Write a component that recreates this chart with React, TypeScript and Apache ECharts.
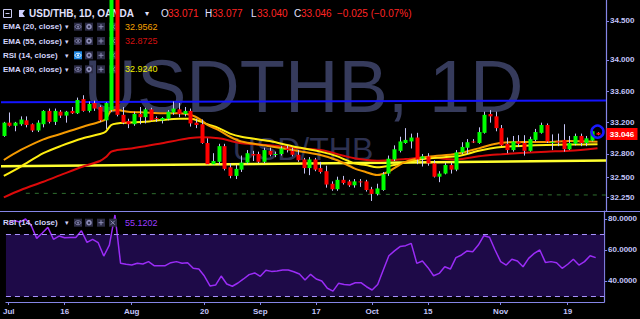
import React, { useEffect, useRef } from 'react';
import * as echarts from 'echarts';

const dates = [
  '07-02','07-03','07-04','07-05','07-06','07-09','07-10','07-11','07-12','07-13','07-16','07-17','07-18','07-19','07-20','07-23','07-24','07-25','07-26','07-27','07-30','07-31',
  '08-01','08-02','08-03','08-06','08-07','08-08','08-09','08-10','08-13','08-14','08-15','08-16','08-17','08-20','08-21','08-22','08-23','08-24','08-27','08-28','08-29','08-30','08-31',
  '09-03','09-04','09-05','09-06','09-07','09-10','09-11','09-12','09-13','09-14','09-17','09-18','09-19','09-20','09-21','09-24','09-25','09-26','09-27','09-28',
  '10-01','10-02','10-03','10-04','10-05','10-08','10-09','10-10','10-11','10-12','10-15','10-16','10-17','10-18','10-19','10-22','10-23','10-24','10-25','10-26','10-29','10-30','10-31',
  '11-01','11-02','11-05','11-06','11-07','11-08','11-09','11-12','11-13','11-14','11-15','11-16','11-19','11-20','11-21','11-22','11-23','11-26',
  ''
];

const tickDates = ['07-02','07-16','08-01','08-20','09-03','09-17','10-01','10-15','11-01','11-19'];
const tickTexts = ['Jul','16','Aug','20','Sep','17','Oct','15','Nov','19'];

const opens = [33.03,33.20,33.16,33.18,33.23,33.18,33.10,33.18,33.35,33.21, 33.34,33.29,33.35,33.32,33.50,33.35,33.45,33.40,33.23,33.36, 34.90,33.30,33.22,33.18,33.31,33.27,33.37,33.26,33.23,33.25, 33.33,33.37,33.31,33.35,33.20,33.18,32.94,32.67,32.70,32.90, 32.63,32.52,32.60,32.69,32.80,32.80,32.70,32.84,32.79,32.80, 32.87,32.84,32.79,32.73,32.62,32.73,32.62,32.58,32.42,32.35, 32.47,32.45,32.40,32.45,32.45,32.35,32.29,32.34,32.55,32.73, 32.84,32.94,32.96,33.01,32.74,32.77,32.68,32.51,32.55,32.66, 32.60,32.82,32.88,32.96,32.94,33.07,33.31,33.28,33.13,32.93, 32.85,32.96,32.94,32.84,32.98,33.07,33.17,32.95,32.96,32.98, 32.86,32.93,33.03,32.94,32.97,33.071];
const closes = [33.20,33.16,33.20,33.24,33.17,33.10,33.20,33.35,33.21,33.35, 33.29,33.34,33.32,33.49,33.35,33.44,33.38,33.23,33.45,34.90, 33.30,33.20,33.18,33.31,33.27,33.37,33.23,33.255,33.26,33.34, 33.38,33.31,33.35,33.19,33.17,32.94,32.67,32.71,32.90,32.61, 32.52,32.61,32.69,32.81,32.78,32.70,32.85,32.79,32.80,32.87, 32.85,32.79,32.72,32.62,32.73,32.60,32.57,32.41,32.35,32.47, 32.43,32.40,32.45,32.44,32.34,32.29,32.36,32.54,32.74,32.86, 32.96,32.98,33.01,32.73,32.77,32.68,32.51,32.55,32.66,32.60, 32.82,32.89,32.95,32.95,33.08,33.30,33.28,33.13,32.91,32.85, 32.96,32.93,32.84,32.99,33.08,33.17,32.96,32.955,32.95,32.86, 32.94,33.03,32.94,33.00,33.09,33.046];
const lows = [33.02,33.15,33.09,33.16,33.14,33.08,33.08,33.14,33.19,33.17, 33.26,33.20,33.31,33.31,33.34,33.33,33.35,33.21,33.12,33.34, 33.28,33.18,33.13,33.16,33.18,33.19,33.22,33.21,33.19,33.23, 33.30,33.27,33.28,33.15,33.13,32.93,32.66,32.66,32.66,32.59, 32.49,32.48,32.57,32.67,32.71,32.68,32.68,32.77,32.76,32.78, 32.82,32.77,32.70,32.55,32.53,32.58,32.55,32.37,32.33,32.33, 32.41,32.38,32.37,32.38,32.32,32.20,32.27,32.33,32.52,32.71, 32.82,32.93,32.87,32.67,32.64,32.65,32.50,32.44,32.54,32.55, 32.58,32.80,32.80,32.94,32.93,33.06,33.20,33.09,32.90,32.81, 32.83,32.89,32.78,32.83,32.96,33.06,32.94,32.85,32.90,32.83, 32.85,32.91,32.90,32.90,32.96,33.040];
const highs = [33.21,33.33,33.21,33.28,33.28,33.19,33.23,33.36,33.38,33.38, 33.36,33.35,33.40,33.52,33.55,33.47,33.48,33.42,33.46,34.95, 34.95,33.40,33.25,33.34,33.40,33.39,33.39,33.28,33.27,33.36, 33.47,33.45,33.40,33.38,33.25,33.24,33.00,32.81,32.93,32.93, 32.68,32.66,32.78,32.85,32.84,32.83,32.88,32.88,32.83,32.90, 32.91,32.88,32.85,32.75,32.76,32.75,32.70,32.65,32.45,32.51, 32.52,32.47,32.48,32.48,32.47,32.38,32.42,32.57,32.78,32.91, 33.02,33.13,33.06,33.07,32.80,32.81,32.72,32.58,32.69,32.69, 32.85,32.95,32.99,32.99,33.14,33.34,33.36,33.34,33.17,33.01, 33.03,33.04,33.04,33.02,33.12,33.20,33.19,33.05,33.06,33.18, 33.03,33.06,33.06,33.03,33.11,33.077];

const ema20 = [[0,32.723],[3,32.851],[7,32.987],[10,33.055],[14,33.148],[17,33.212],[18,33.243],[19,33.353],[20,33.361],[22,33.34],[25,33.33],[28,33.32],[31,33.32],[33,33.30],[35,33.23],[36,33.17],[38,33.106],[40,33.02],[42,32.96],[47,32.90],[51,32.85],[56,32.787],[59,32.72],[62,32.617],[64,32.57],[66,32.531],[68,32.573],[71,32.70],[75,32.765],[80,32.80],[84,32.872],[86,32.914],[88,32.944],[92,32.953],[96,32.953],[100,32.966],[105,32.956]];
const ema30 = [[0,32.52],[3,32.64],[7,32.81],[10,32.90],[14,33.0],[17,33.055],[18,33.085],[19,33.17],[20,33.19],[22,33.20],[25,33.21],[28,33.234],[31,33.25],[33,33.25],[35,33.21],[36,33.18],[38,33.13],[40,33.06],[42,33.02],[47,32.965],[51,32.90],[56,32.83],[59,32.77],[62,32.68],[64,32.66],[66,32.63],[68,32.646],[71,32.69],[75,32.745],[80,32.77],[84,32.84],[86,32.87],[88,32.89],[92,32.905],[96,32.915],[100,32.92],[105,32.924]];
const ema55 = [[0,32.246],[3,32.34],[7,32.446],[10,32.53],[14,32.64],[17,32.71],[18,32.757],[19,32.83],[20,32.85],[22,32.867],[25,32.90],[28,32.936],[31,32.98],[33,33.004],[35,33.013],[38,33.0],[40,32.97],[42,32.936],[47,32.91],[51,32.88],[56,32.85],[62,32.745],[66,32.714],[68,32.72],[71,32.735],[75,32.757],[80,32.73],[84,32.77],[86,32.787],[88,32.796],[92,32.816],[96,32.83],[100,32.84],[105,32.8725]];

const rsi = [77,79,78,80,76,67.5,71,74.6,66.9,69.0, 67.9,68.0,68.1,72.4,64.9,66.9,64.7,56.1,63.2,82.6, 51.5,50.8,50.3,51.4,51.0,52.5,49.9,49.9,49.9,51.8, 52.5,51.4,51.8,48.2,47.7,43.2,36.8,37.4,43.2,38.1, 36.6,38.7,41.3,44.1,45.2,43.0,46.9,46.2,46.5,47.1, 47.1,46.0,44.5,40.6,44.3,41.3,40.0,35.3,33.5,38.5, 37.8,37.4,38.9,38.9,36.3,34.2,37.8,47.1,56.3,59.4, 62.2,62.8,64.3,51.4,52.9,48.6,43.4,44.9,49.2,47.7, 55.1,56.8,59.4,58.9,63.2,69.2,68.2,60.0,52.5,50.3, 54.0,52.9,49.2,54.6,57.8,60.0,52.0,52.5,51.8,48.2, 50.8,54.0,50.3,52.5,56.3,55.1];

// drawn lines in price units, x as fraction of plot width
const blueLine = [[0, 33.46], [1, 33.483]];
const yellowTrend = [[0, 32.642], [1, 32.716]];
const greenDashed = [[0.041, 32.298], [1, 32.276]];

const priceTicks = [34.5, 34.0, 33.6, 33.2, 32.8, 32.5, 32.25];
const rsiTicks = [80, 60, 40];
const lastPrice = 33.046;
const circleMark = [105, 33.085];

const FONT = '"Liberation Sans", Arial, sans-serif';
const AXIS = '#8585e6';
const LABEL = '#c3c5fa';

function txt(x: number, y: number, text: string, fill: string, size: number, weight = 'normal', z = 1, family = FONT, align = 'left') {
  return { type: 'text', x, y, z, silent: true, style: { text, fill, fontSize: size, fontWeight: weight, fontFamily: family, align, verticalAlign: 'middle' } };
}
function seg(x1: number, y1: number, x2: number, y2: number, stroke: string, z: number) {
  return { type: 'line', z, silent: true, shape: { x1, y1, x2, y2 }, style: { stroke, lineWidth: 1 } };
}
function icons(y: number, z: number, eyeFill?: string) {
  const bg = '#2c2c46';
  const g = '#8e8eb8';
  const out: any[] = [];
  [74, 85, 97, 109].forEach((x, k) => {
    out.push({ type: 'rect', z, silent: true, shape: { x, y: y - 4, width: 8, height: 8 }, style: { fill: k === 0 && eyeFill ? eyeFill : bg } });
  });
  const eg = eyeFill ? '#ffffff' : g;
  out.push({ type: 'ellipse', z, silent: true, shape: { cx: 78, cy: y, rx: 3, ry: 2 }, style: { fill: 'none', stroke: eg, lineWidth: 0.8 } });
  out.push({ type: 'circle', z, silent: true, shape: { cx: 78, cy: y, r: 0.9 }, style: { fill: eg } });
  out.push({ type: 'ring', z, silent: true, shape: { cx: 89, cy: y, r: 2.8, r0: 1.2 }, style: { fill: g } });
  out.push(seg(98.5, y, 103.5, y, g, z), seg(101, y - 2.5, 101, y + 2.5, g, z));
  out.push(seg(110.8, y - 2, 114.8, y + 2, g, z), seg(110.8, y + 2, 114.8, y - 2, g, z));
  return out;
}
function legendRow(y: number, label: string, value: string, color: string, eyeFill?: string, z = 1) {
  const out: any[] = [txt(3, y, label, '#d2d3fa', 8, 'bold', z), txt(65, y, '▾', '#d2d3fa', 7, 'normal', z)];
  out.push(...icons(y, z, eyeFill));
  if (value) out.push(txt(125, y, value, color, 9, 'normal', z));
  return out;
}

export default function App() {
  const ref = useRef<HTMLDivElement>(null);
  useEffect(() => {
    const chart = echarts.init(ref.current!, null, { renderer: 'svg' });
    const candleData = dates.slice(0, opens.length).map((_, i) => [i, opens[i], closes[i], lows[i], highs[i]]);
    const tickIdx = tickDates.map((d) => dates.indexOf(d));
    const showTick = (idx: number) => tickIdx.includes(idx);

    const graphics: any[] = [
      // watermark
      { type: 'text', z: 0, silent: true, x: 303.5, y: 86, style: { text: 'USDTHB, 1D', fill: '#363b5c', fontSize: 74, fontFamily: FONT, align: 'center', verticalAlign: 'middle' } },
      { type: 'text', z: 0, silent: true, x: 303, y: 149, style: { text: 'USD/THB', fill: '#2d3150', fontSize: 32, fontFamily: FONT, align: 'center', verticalAlign: 'middle' } },
      // separator
      { type: 'line', z: 6, silent: true, shape: { x1: 0, y1: 211.5, x2: 640, y2: 211.5 }, style: { stroke: AXIS, lineWidth: 1.2 } },
      // last price label
      { type: 'rect', z: 8, silent: true, shape: { x: 606.5, y: 128, width: 31, height: 12 }, style: { fill: '#ff0000' } },
      txt(622, 134.3, lastPrice.toFixed(3), '#ffffff', 8, 'bold', 9, FONT, 'center'),
      // header row
      { type: 'rect', z: 1, silent: true, shape: { x: 3.5, y: 9.5, width: 8, height: 8 }, style: { fill: 'none', stroke: '#c8c8f0', lineWidth: 1 } },
      { type: 'line', z: 1, silent: true, shape: { x1: 5.5, y1: 13.5, x2: 9.5, y2: 13.5 }, style: { stroke: '#c8c8f0', lineWidth: 1 } },
      { type: 'polygon', z: 1, silent: true, shape: { points: [[19, 10], [25, 10], [22.5, 13.5], [25, 17], [19, 17]] }, style: { fill: '#d0d0ff' } },
      txt(29, 13.5, 'USD/THB, 1D, OANDA', '#e2e2ff', 10, 'bold'),
      txt(145, 13.5, '▾', '#e2e2ff', 8),
      txt(161, 13.5, 'O', '#e2e2ff', 10), txt(168, 13.5, '33.071', '#ff2424', 10),
      txt(205, 13.5, 'H', '#e2e2ff', 10), txt(212, 13.5, '33.077', '#ff2424', 10),
      txt(251, 13.5, 'L', '#e2e2ff', 10), txt(257, 13.5, '33.040', '#ff2424', 10),
      txt(294, 13.5, 'C', '#e2e2ff', 10), txt(301, 13.5, '33.046', '#ff2424', 10),
      txt(337, 13.5, '−0.025 (−0.07%)', '#ff2424', 10),
      ...legendRow(26.7, 'EMA (20, close)', '32.9562', '#f5a000'),
      ...legendRow(41, 'EMA (55, close)', '32.8725', '#d41010'),
      ...legendRow(55.3, 'RSI (14, close)', '', '#fff', '#1e88e5'),
      ...legendRow(69.3, 'EMA (30, close)', '32.9240', '#f0f000'),
      ...legendRow(222.7, 'RSI (14, close)', '55.1202', '#9a3cff', undefined, 8),
    ];

    const option: any = {
      animation: false,
      backgroundColor: '#000000',
      grid: [
        { left: 1, width: 605, top: 0, height: 211 },
        { left: 1, width: 605, top: 211, height: 91 },
      ],
      xAxis: [
        { type: 'category', gridIndex: 0, data: dates, boundaryGap: true, show: false },
        {
          type: 'category', gridIndex: 1, data: dates, boundaryGap: true,
          axisLine: { show: true, lineStyle: { color: AXIS, width: 1.2 } },
          axisTick: { show: true, interval: showTick, alignWithLabel: true, length: 3, lineStyle: { color: AXIS } },
          axisLabel: {
            interval: showTick, color: LABEL, fontSize: 8, fontWeight: 'bold', fontFamily: FONT, margin: 5,
            formatter: (v: string) => { const k = tickDates.indexOf(v); return k >= 0 ? tickTexts[k] : ''; },
          },
          splitLine: { show: false },
        },
        { type: 'value', gridIndex: 0, min: 0, max: 1, show: false },
      ],
      yAxis: [
        {
          type: 'value', gridIndex: 0, position: 'right', min: 32.072, max: 34.766, scale: true,
          axisLine: { show: true, onZero: false, lineStyle: { color: AXIS, width: 1.2 } },
          axisTick: { show: true, customValues: priceTicks, length: 3, lineStyle: { color: AXIS } },
          axisLabel: { customValues: priceTicks, color: LABEL, fontSize: 8, fontWeight: 'bold', fontFamily: FONT, margin: 4, formatter: (v: number) => v.toFixed(3) },
          splitLine: { show: false },
        },
        {
          type: 'value', gridIndex: 1, position: 'right', min: 26.45, max: 85.16,
          axisLine: { show: true, onZero: false, lineStyle: { color: AXIS, width: 1.2 } },
          axisTick: { show: true, customValues: rsiTicks, length: 3, lineStyle: { color: AXIS } },
          axisLabel: { customValues: rsiTicks, color: LABEL, fontSize: 8, fontWeight: 'bold', fontFamily: FONT, margin: 4, formatter: (v: number) => v.toFixed(4) },
          splitLine: { show: false },
        },
      ],
      graphic: { elements: graphics },
      series: [
        { type: 'line', xAxisIndex: 2, yAxisIndex: 0, data: blueLine, showSymbol: false, lineStyle: { color: '#1414ff', width: 2 }, z: 1, silent: true },
        { type: 'line', xAxisIndex: 2, yAxisIndex: 0, data: yellowTrend, showSymbol: false, lineStyle: { color: '#ffff30', width: 2.5 }, z: 1, silent: true },
        { type: 'line', xAxisIndex: 2, yAxisIndex: 0, data: greenDashed, showSymbol: false, lineStyle: { color: '#2f6e2f', width: 1, type: [4, 5] }, z: 1, silent: true },
        { type: 'line', xAxisIndex: 0, yAxisIndex: 0, data: ema55, showSymbol: false, smooth: 0.3, lineStyle: { color: '#dc0a0a', width: 2 }, z: 2, silent: true },
        { type: 'line', xAxisIndex: 0, yAxisIndex: 0, data: ema30, showSymbol: false, smooth: 0.3, lineStyle: { color: '#ffee10', width: 2 }, z: 2, silent: true },
        {
          type: 'line', xAxisIndex: 0, yAxisIndex: 0, data: ema20, showSymbol: false, smooth: 0.3,
          lineStyle: { color: '#f59a00', width: 2 }, z: 2, silent: true,
          markPoint: {
            silent: true, symbol: 'circle', symbolSize: 12, animation: false,
            data: [{ coord: circleMark }],
            itemStyle: { color: 'rgba(0,0,0,0)', borderColor: '#1a1aff', borderWidth: 2.5 },
            label: { show: false },
          },
        },
        {
          type: 'custom', xAxisIndex: 0, yAxisIndex: 0, data: candleData, z: 3, silent: true,
          encode: { x: 0, y: [1, 2, 3, 4] },
          renderItem: (params: any, api: any) => {
            const i = api.value(0);
            const o = api.value(1), c = api.value(2), l = api.value(3), h = api.value(4);
            const pO = api.coord([i, o]), pC = api.coord([i, c]), pL = api.coord([i, l]), pH = api.coord([i, h]);
            const xc = Math.round(pO[0]);
            const top = Math.min(pO[1], pC[1]);
            const bh = Math.max(1, Math.abs(pO[1] - pC[1]));
            const up = c >= o;
            return {
              type: 'group',
              children: [
                { type: 'line', shape: { x1: xc + 0.5, y1: pH[1], x2: xc + 0.5, y2: pL[1] }, style: { stroke: '#c4c4f4', lineWidth: 1 } },
                { type: 'rect', shape: { x: xc - 1.5, y: top, width: 4, height: bh }, style: { fill: up ? '#00ff00' : '#ff0000' } },
              ],
            };
          },
        },
        {
          type: 'line', xAxisIndex: 1, yAxisIndex: 1, data: rsi, showSymbol: false,
          lineStyle: { color: '#9a2cf6', width: 1.5 }, z: 3, silent: true,
          markArea: { silent: true, itemStyle: { color: '#1e0a48', opacity: 1 }, data: [[{ yAxis: 30 }, { yAxis: 70 }]] },
          markLine: {
            silent: true, symbol: 'none', animation: false,
            lineStyle: { color: '#a892ff', width: 1, type: [5, 4] },
            label: { show: false },
            data: [{ yAxis: 70 }, { yAxis: 30 }],
          },
        },
      ],
    };
    chart.setOption(option);
    return () => chart.dispose();
  }, []);
  return <div ref={ref} style={{ position: 'fixed', left: 0, top: 0, width: 640, height: 319, background: '#000' }} />;
}
